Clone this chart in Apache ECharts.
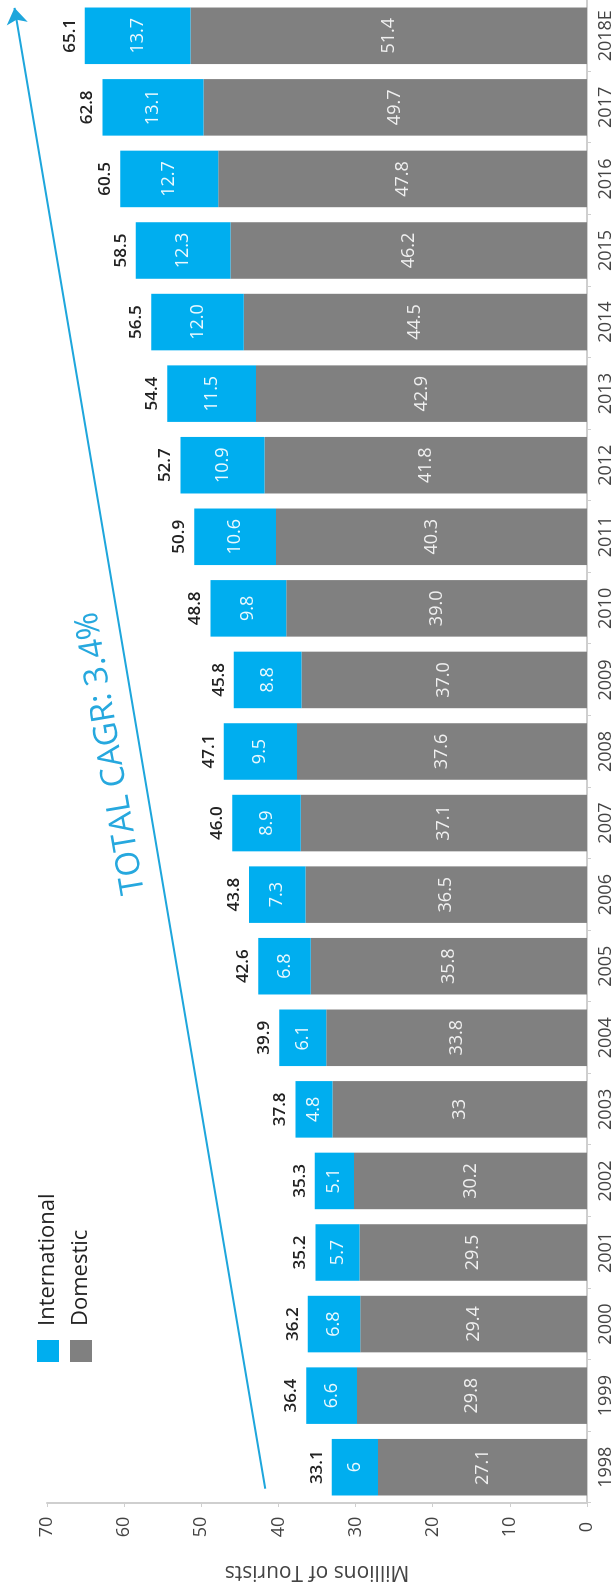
<!DOCTYPE html>
<html>
<head>
<meta charset="utf-8">
<script src="https://cdn.jsdelivr.net/npm/echarts@6/dist/echarts.min.js"></script>
<style>
  html, body { margin: 0; padding: 0; background: #ffffff; overflow: hidden; }
  body { width: 614px; height: 1593px; position: relative; }
  /* The chart is laid out landscape and turned a quarter turn counter-clockwise */
  #chart {
    position: absolute; left: 0; top: 0;
    width: 1593px; height: 614px;
    transform-origin: 0 0;
    transform: translateY(1593px) rotate(-90deg);
  }
</style>
</head>
<body>
<div id="chart"></div>
<script>
// Tourist arrivals, millions
const years = ['1998','1999','2000','2001','2002','2003','2004','2005','2006','2007',
               '2008','2009','2010','2011','2012','2013','2014','2015','2016','2017','2018E'];
const domestic = ['27.1','29.8','29.4','29.5','30.2','33','33.8','35.8','36.5','37.1',
                  '37.6','37.0','39.0','40.3','41.8','42.9','44.5','46.2','47.8','49.7','51.4'];
const international = ['6','6.6','6.8','5.7','5.1','4.8','6.1','6.8','7.3','8.9',
                       '9.5','8.8','9.8','10.6','10.9','11.5','12.0','12.3','12.7','13.1','13.7'];
const totals = ['33.1','36.4','36.2','35.2','35.3','37.8','39.9','42.6','43.8','46.0',
                '47.1','45.8','48.8','50.9','52.7','54.4','56.5','58.5','60.5','62.8','65.1'];
const valueTicks = { min: 0, max: 70, interval: 10 };

// Growth arrow endpoints: [category position, millions]
const cagrFrom = [-0.30, 41.7];
const cagrTo = [20.39, 74.2];
const cagrText = 'TOTAL CAGR: 3.4%';

const BLUE = '#00aeef';
const GREY = '#808080';
const FONT = '"Open Sans", "Noto Sans", sans-serif';

// plot area (in the landscape frame)
const W = 1593, H = 614;
const plot = { left: 90, right: 0, top: 47, bottom: 27 };
// the overlay grid carries the arrow; it shares the main value scale but reaches higher
const overlayMax = 80;
const pxPerUnit = (H - plot.top - plot.bottom) / valueTicks.max;
const overlayTop = H - plot.bottom - overlayMax * pxPerUnit;

const chart = echarts.init(document.getElementById('chart'), null, { renderer: 'canvas' });

chart.setOption({
  animation: false,
  backgroundColor: '#ffffff',
  textStyle: { fontFamily: FONT },
  legend: {
    data: ['International', 'Domestic'],
    orient: 'vertical',
    left: 226, top: 32,
    itemWidth: 22, itemHeight: 22, itemGap: 11,
    icon: 'rect',
    textStyle: { fontSize: 22, lineHeight: 22, color: '#222', fontFamily: FONT, padding: [0, 0, 0, 9] }
  },
  grid: [
    { left: plot.left, right: plot.right, top: plot.top, bottom: plot.bottom, containLabel: false, outerBoundsMode: 'none' },
    { left: plot.left, right: plot.right, top: overlayTop, bottom: plot.bottom, containLabel: false, outerBoundsMode: 'none' }
  ],
  xAxis: [{
    type: 'category',
    gridIndex: 0,
    data: years,
    axisLine: { onZero: false, lineStyle: { color: '#cfcfcf', width: 2 } },
    axisTick: { show: true, length: 4, lineStyle: { color: '#cfcfcf' } },
    axisLabel: { color: '#444', fontSize: 18, margin: 10, fontFamily: FONT }
  }, {
    type: 'value', gridIndex: 1, show: false, min: -0.5, max: years.length - 0.5,
    axisLine: { onZero: false }
  }],
  yAxis: [{
    type: 'value',
    gridIndex: 0,
    min: valueTicks.min, max: valueTicks.max, interval: valueTicks.interval,
    name: 'Millions of Tourists',
    nameLocation: 'middle', nameRotate: 90, nameGap: 58, nameMoveOverlap: false,
    nameTextStyle: { color: '#444', fontSize: 21, fontFamily: FONT },
    axisLine: { show: true, onZero: false, lineStyle: { color: '#cfcfcf', width: 2 } },
    axisTick: { show: true, length: 4, lineStyle: { color: '#cfcfcf' } },
    splitLine: { show: false },
    axisLabel: { color: '#444', fontSize: 18, margin: 24, align: 'center', fontFamily: FONT }
  }, {
    type: 'value', gridIndex: 1, show: false, min: 0, max: overlayMax,
    axisLine: { onZero: false }, splitLine: { show: false }
  }],
  series: [{
    name: 'Domestic',
    type: 'bar',
    stack: 'total',
    barCategoryGap: '21%',
    data: domestic.map(Number),
    itemStyle: { color: GREY },
    label: {
      show: true, position: 'inside',
      color: 'rgba(255,255,255,0.88)', fontSize: 18, fontFamily: FONT,
      formatter: p => domestic[p.dataIndex]
    }
  }, {
    name: 'International',
    type: 'bar',
    stack: 'total',
    barCategoryGap: '21%',
    data: international.map(Number),
    itemStyle: { color: BLUE },
    label: {
      show: true, position: 'inside',
      color: 'rgba(255,255,255,0.92)', fontSize: 18, fontFamily: FONT,
      formatter: p => international[p.dataIndex]
    }
  }, {
    // invisible carrier for the stack totals above each bar
    name: 'Total',
    type: 'line',
    data: totals.map(Number),
    symbol: 'circle',
    symbolSize: 1,
    showSymbol: true,
    itemStyle: { color: 'rgba(0,0,0,0)' },
    lineStyle: { opacity: 0 },
    silent: true,
    label: {
      show: true, position: 'top', distance: 6, opacity: 1,
      color: '#222', fontSize: 17, fontWeight: 600, fontFamily: FONT,
      formatter: p => totals[p.dataIndex]
    }
  }, {
    name: 'CAGR',
    type: 'line',
    xAxisIndex: 1,
    yAxisIndex: 1,
    data: [cagrFrom, cagrTo],
    symbol: 'none',
    lineStyle: { opacity: 0 },
    clip: false,
    silent: true,
    markLine: {
      silent: true,
      symbol: ['none', 'arrow'],
      symbolSize: 16,
      lineStyle: { color: '#1ea6dc', width: 2, type: 'solid', opacity: 1 },
      label: {
        show: true, position: 'insideMiddleTop', distance: 13,
        formatter: cagrText,
        color: '#26a8de', fontSize: 33, fontFamily: FONT
      },
      data: [[{ coord: cagrFrom }, { coord: cagrTo }]]
    }
  }]
});
</script>
</body>
</html>
